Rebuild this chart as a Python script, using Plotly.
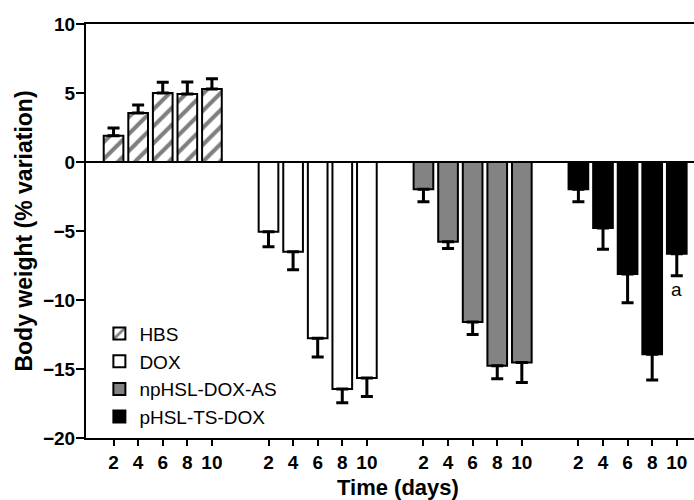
import plotly.graph_objects as go

# ---- data ----
groups = ["HBS", "DOX", "npHSL-DOX-AS", "pHSL-TS-DOX"]
days = ["2", "4", "6", "8", "10"]

hbs_mean = [1.9, 3.55, 5.0, 4.93, 5.29]
hbs_err = [0.56, 0.58, 0.77, 0.87, 0.75]

dox_mean = [-5.05, -6.5, -12.78, -16.45, -15.65]
dox_err = [1.1, 1.3, 1.35, 1.0, 1.35]

np_mean = [-1.98, -5.77, -11.6, -14.76, -14.52]
np_err = [0.9, 0.5, 0.9, 0.95, 1.45]

p_mean = [-1.98, -4.78, -8.12, -13.94, -6.64]
p_err = [0.9, 1.55, 2.08, 1.86, 1.6]

annot_text = "a"  # significance mark on pHSL-TS-DOX, day 10

means = [hbs_mean, dox_mean, np_mean, p_mean]
errs = [hbs_err, dox_err, np_err, p_err]

# ---- layout helpers ----
GROUP_STEP = 6.3
FONT = "Arial, Liberation Sans, Helvetica, sans-serif"

fills = ["white", "white", "#838383", "black"]
patterns = [dict(shape="/", fgcolor="black", bgcolor="white", size=12, solidity=0.34),
            None, None, None]

fig = go.Figure()
tickvals, ticktext = [], []
for g, (name, m, e) in enumerate(zip(groups, means, errs)):
    xs = [g * GROUP_STEP + i for i in range(len(days))]
    tickvals += xs
    ticktext += days
    up = [ee if mm >= 0 else 0 for mm, ee in zip(m, e)]
    down = [ee if mm < 0 else 0 for mm, ee in zip(m, e)]
    marker = dict(color=fills[g], line=dict(color="black", width=2))
    if patterns[g] is not None:
        marker["pattern"] = patterns[g]
    fig.add_trace(go.Bar(
        x=xs, y=m, name=name, width=0.8, marker=marker,
        error_y=dict(type="data", symmetric=False, array=up, arrayminus=down,
                     color="black", thickness=3, width=6),
    ))

# significance annotation under the last bar of pHSL-TS-DOX
fig.add_annotation(
    x=3 * GROUP_STEP + 4, y=p_mean[4] - p_err[4], text=annot_text,
    showarrow=False, yanchor="top", yshift=-1,
    font=dict(family=FONT, size=19, color="black"),
)

# x-axis title (placed as in the reference, slightly right of plot centre)
fig.add_annotation(
    xref="paper", yref="paper", x=0.513, y=0, yanchor="top", yshift=-35,
    text="<b>Time (days)</b>", showarrow=False,
    font=dict(family=FONT, size=22, color="black"),
)

fig.update_layout(
    width=694, height=500,
    margin=dict(l=86, r=0, t=24, b=62, autoexpand=False),
    paper_bgcolor="white", plot_bgcolor="white",
    barmode="overlay",
    font=dict(family=FONT, color="black"),
    showlegend=True,
    legend=dict(x=0.022, y=0.298, xanchor="left", yanchor="top",
                bgcolor="rgba(0,0,0,0)", traceorder="normal",
                font=dict(family=FONT, size=19, color="black")),
    xaxis=dict(
        range=[-1.12, 23.6], tickvals=tickvals, ticktext=ticktext,
        showline=True, linecolor="black", linewidth=2, mirror=True,
        ticks="outside", ticklen=6, tickwidth=2, tickcolor="black",
        showgrid=False, zeroline=False, automargin=False,
        tickfont=dict(family=FONT, size=19, color="black", weight="bold"),
    ),
    yaxis=dict(
        range=[-20, 10], tickvals=[-20, -15, -10, -5, 0, 5, 10],
        showline=True, linecolor="black", linewidth=2,
        ticks="outside", ticklen=8, tickwidth=2, tickcolor="black",
        ticklabelstandoff=-3,
        showgrid=False, zeroline=True, zerolinecolor="black", zerolinewidth=2,
        automargin=False,
        tickfont=dict(family=FONT, size=19, color="black", weight="bold"),
        title=dict(text="<b>Body weight (% variation)</b>", standoff=4,
                   font=dict(family=FONT, size=23, color="black")),
    ),
)

fig.write_html(
    "out.html",
    config={"displayModeBar": False},
    post_script="document.body.style.margin='0px';document.body.style.overflow='hidden';",
)
